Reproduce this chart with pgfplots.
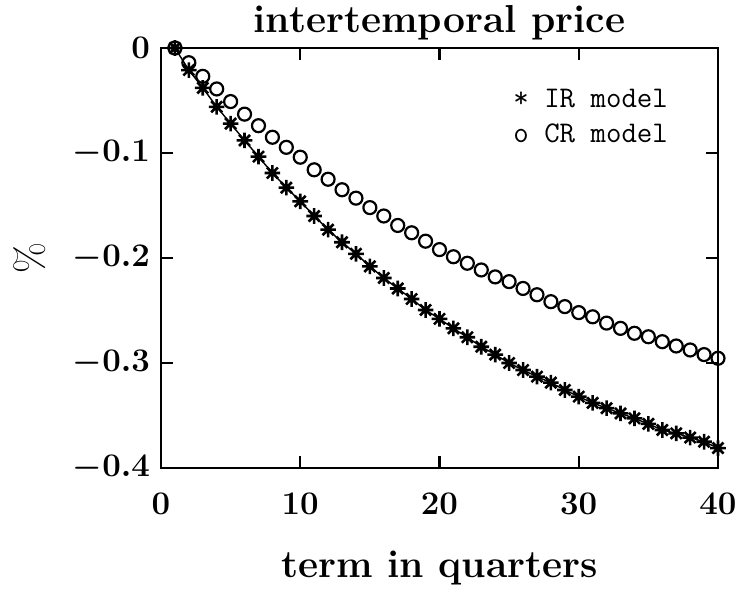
\RequirePackage{fix-cm}
\documentclass[border=0pt]{standalone}
\usepackage{pgfplots}
\pgfplotsset{compat=1.18}

% 8-armed star, like the old plotting "*"
\pgfdeclareplotmark{star8}{%
  \pgfpathmoveto{\pgfqpoint{0pt}{\pgfplotmarksize}}%
  \pgfpathlineto{\pgfqpoint{0pt}{-\pgfplotmarksize}}%
  \pgfpathmoveto{\pgfqpoint{\pgfplotmarksize}{0pt}}%
  \pgfpathlineto{\pgfqpoint{-\pgfplotmarksize}{0pt}}%
  \pgfpathmoveto{\pgfqpoint{.707\pgfplotmarksize}{.707\pgfplotmarksize}}%
  \pgfpathlineto{\pgfqpoint{-.707\pgfplotmarksize}{-.707\pgfplotmarksize}}%
  \pgfpathmoveto{\pgfqpoint{-.707\pgfplotmarksize}{.707\pgfplotmarksize}}%
  \pgfpathlineto{\pgfqpoint{.707\pgfplotmarksize}{-.707\pgfplotmarksize}}%
  \pgfusepathqstroke}

\begin{document}
\begin{tikzpicture}
\useasboundingbox (-80.5pt,-65.5pt) rectangle (291pt,234pt);
\begin{axis}[
  at={(0,0)}, anchor=south west,
  width=278.5pt, height=210pt, scale only axis,
  xmin=0, xmax=40, ymin=-0.4, ymax=0,
  xtick={0,10,20,30,40}, ytick={-0.4,-0.3,-0.2,-0.1,0},
  tick align=inside, major tick length=6pt,
  axis line style={line width=1.2pt}, tick style={line width=1.2pt, black},
  clip=false,
  tick label style={font=\fontsize{16.5}{20}\selectfont\boldmath},
  xticklabel style={yshift=-9pt},
  yticklabel style={xshift=-2pt},
  title={intertemporal price},
  every axis title shift=0pt,
  title style={at={(0.5,1)}, anchor=base, yshift=7.5pt, font=\fontsize{19.5}{23}\selectfont\bfseries},
  xlabel={term in quarters},
  xlabel style={at={(axis description cs:0.5,0)}, anchor=base, yshift=-54.5pt, font=\fontsize{19.5}{23}\selectfont\bfseries},
  ylabel={\%},
  ylabel style={at={(axis description cs:0,0.5)}, anchor=center, yshift=65.75pt, font=\fontsize{20}{24}\selectfont},
  legend image code/.code={},
  legend style={draw=none, fill=none, inner sep=0pt, at={(axis description cs:0.632,0.903)}, anchor=north west,
    font=\fontsize{15}{18}\selectfont\ttfamily, row sep=6.8pt, nodes={inner sep=0pt}, column sep=0pt},
  legend cell align=left,
]
\addplot[black, line width=0.7pt, mark=star8, mark size=3.9pt, mark options={line width=1.3pt, solid}] coordinates {
(1,0) (2,-0.021) (3,-0.038) (4,-0.056) (5,-0.072) (6,-0.088) (7,-0.1035) (8,-0.119) (9,-0.133) (10,-0.146)
(11,-0.160) (12,-0.173) (13,-0.185) (14,-0.196) (15,-0.208) (16,-0.219) (17,-0.229) (18,-0.239) (19,-0.2495) (20,-0.258)
(21,-0.267) (22,-0.2755) (23,-0.2845) (24,-0.292) (25,-0.300) (26,-0.3067) (27,-0.313) (28,-0.3187) (29,-0.3257) (30,-0.332)
(31,-0.338) (32,-0.343) (33,-0.348) (34,-0.3527) (35,-0.358) (36,-0.3638) (37,-0.367) (38,-0.371) (39,-0.375) (40,-0.381)
};
\addlegendentry{* IR model}
\addplot[black, only marks, mark=o, mark size=3.25pt, mark options={line width=1.1pt}] coordinates {
(1,0) (2,-0.014) (3,-0.027) (4,-0.039) (5,-0.051) (6,-0.063) (7,-0.074) (8,-0.085) (9,-0.0946) (10,-0.104)
(11,-0.116) (12,-0.125) (13,-0.135) (14,-0.143) (15,-0.152) (16,-0.160) (17,-0.169) (18,-0.176) (19,-0.184) (20,-0.192)
(21,-0.1988) (22,-0.205) (23,-0.2114) (24,-0.218) (25,-0.2225) (26,-0.229) (27,-0.235) (28,-0.2416) (29,-0.2463) (30,-0.252)
(31,-0.256) (32,-0.262) (33,-0.267) (34,-0.2717) (35,-0.275) (36,-0.2797) (37,-0.2838) (38,-0.2876) (39,-0.292) (40,-0.2955)
};
\addlegendentry{o CR model}
\end{axis}
\end{tikzpicture}
\end{document}
